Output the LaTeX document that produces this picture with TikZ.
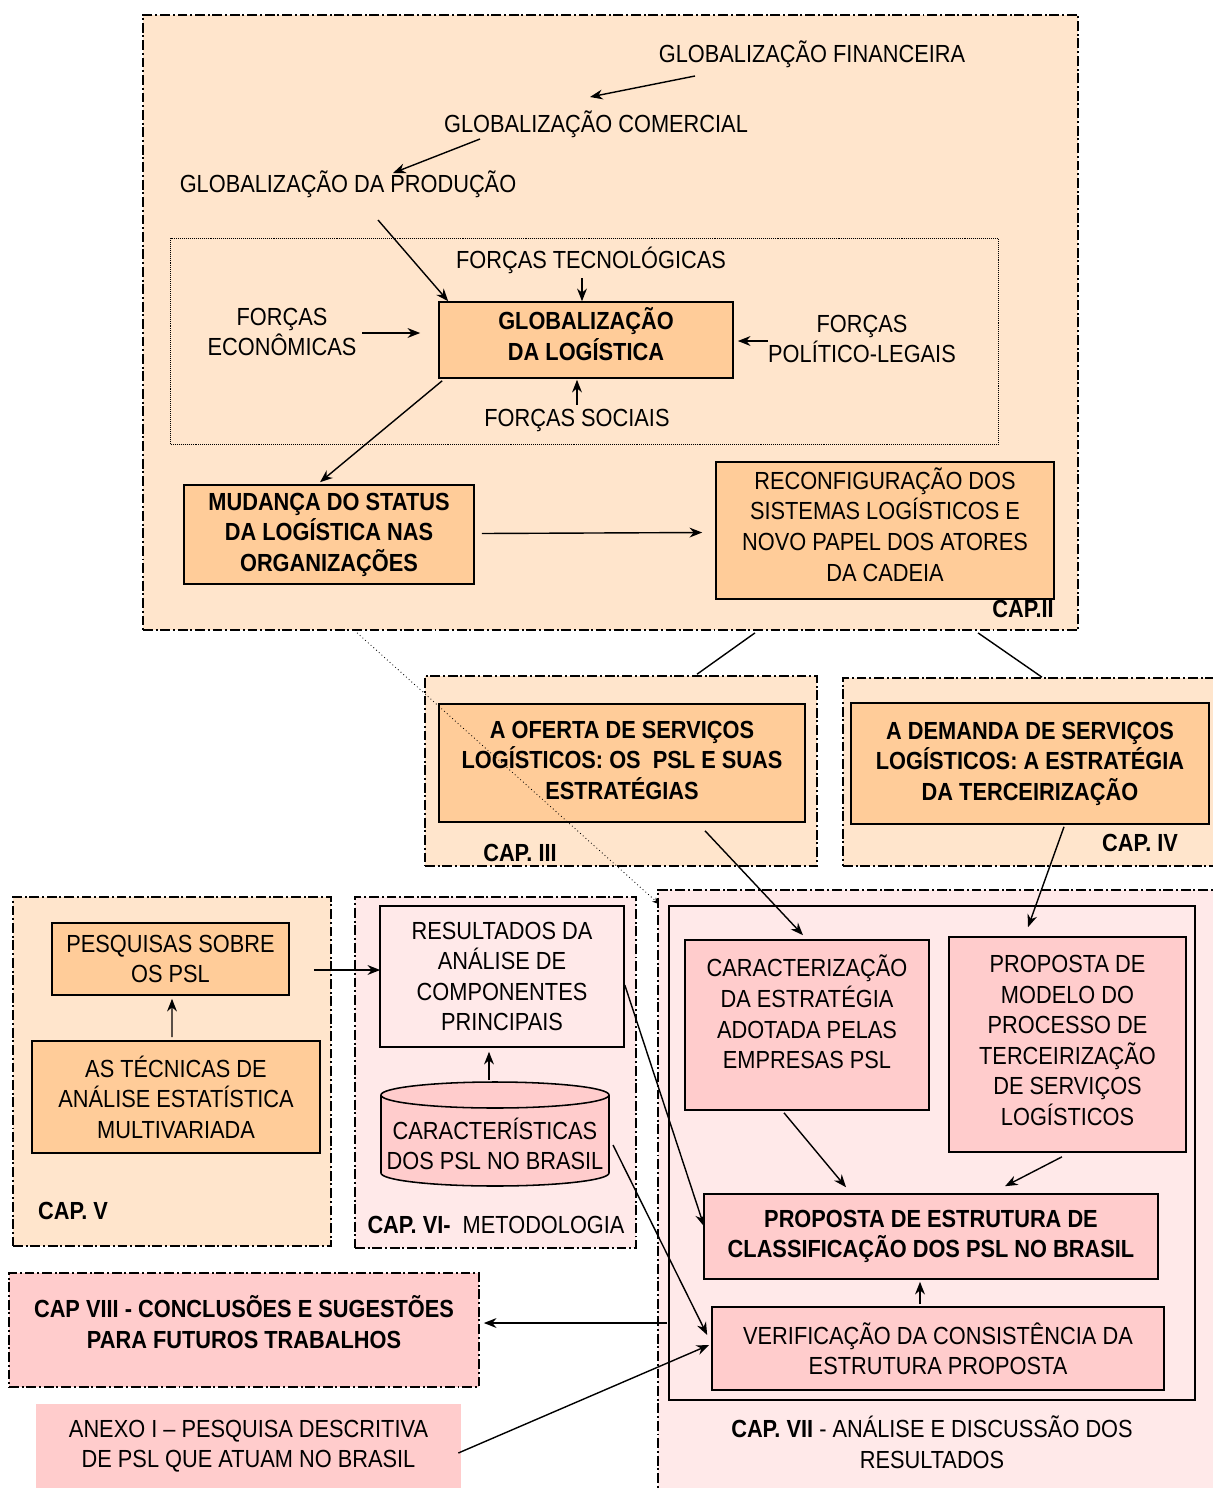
\documentclass[tikz,border=0pt]{standalone}
\usepackage{fontspec}
\setmainfont{Liberation Sans}[FakeStretch=0.88]
\usetikzlibrary{arrows.meta,calc}
\definecolor{peach}{RGB}{255,229,204}
\definecolor{orangebox}{RGB}{255,204,153}
\definecolor{lightpink}{RGB}{255,233,233}
\definecolor{pinkbox}{RGB}{255,204,204}
\begin{document}
\begin{tikzpicture}[x=0.025cm,y=-0.025cm,
    every node/.style={font=\fontsize{17.6}{21.7}\selectfont, align=center, inner sep=0pt},
    bold/.style={font=\fontsize{17.6}{21.7}\selectfont\bfseries},
    chap/.style={draw, line width=1.1pt, dash pattern=on 7pt off 2pt on 1.4pt off 2pt},
    obox/.style={draw, line width=1.1pt, fill=orangebox},
    pbox/.style={draw, line width=1.1pt, fill=pinkbox},
    wbox/.style={draw, line width=1.1pt, fill=lightpink},
    arr/.style={-{Stealth[length=9pt,width=7pt]}, line width=1pt},
    link/.style={line width=1pt}]
  \useasboundingbox (0,0) rectangle (1212,1488);

  \node[chap, fill=peach, minimum width=23.375cm, minimum height=15.375cm] (cap2) at (610.5,322.5) {};
  \node[draw, line width=0.6pt, dash pattern=on 0.6pt off 0.8pt, minimum width=20.675cm, minimum height=5.15cm] (forces) at (584.5,341) {};
  \node[chap, fill=peach, minimum width=9.8cm, minimum height=4.75cm] (cap3) at (621,771) {};
  \node[chap, fill=peach, minimum width=9.275cm, minimum height=4.7cm] (cap4) at (1028.5,772) {};
  \node[chap, fill=peach, minimum width=7.95cm, minimum height=8.725cm] (cap5) at (172,1071.5) {};
  \node[chap, fill=lightpink, minimum width=7.025cm, minimum height=8.775cm] (cap6) at (495.5,1072.5) {};
  \node[chap, fill=lightpink, minimum width=13.95cm, minimum height=15.05cm] (cap7) at (937,1191) {};
  \node[wbox, line width=1pt, minimum width=13.15cm, minimum height=12.35cm] (inner7) at (932,1153) {};
  \node[chap, fill=pinkbox, minimum width=11.75cm, minimum height=2.85cm] (cap8) at (244,1330) {};
  \node[bold] at ($(cap8)+(0,-8)$) {CAP VIII - CONCLUSÕES E SUGESTÕES\\PARA FUTUROS TRABALHOS};
  \node[fill=pinkbox, minimum width=10.625cm, minimum height=2.1cm] (anexo) at (248.5,1446) {ANEXO I -- PESQUISA DESCRITIVA\\DE PSL QUE ATUAM NO BRASIL};

  \node (fin) at (812,54) {GLOBALIZAÇÃO FINANCEIRA};
  \node (com) at (596,124) {GLOBALIZAÇÃO COMERCIAL};
  \node (prod) at (348,184) {GLOBALIZAÇÃO DA PRODUÇÃO};
  \node (tec) at (591,260) {FORÇAS TECNOLÓGICAS};
  \node (eco) at (282,332) {FORÇAS\\ECONÔMICAS};
  \node (pol) at (862,339) {FORÇAS\\POLÍTICO-LEGAIS};
  \node (soc) at (577,420) {FORÇAS SOCIAIS};

  \node[obox, minimum width=7.35cm, minimum height=1.9cm] (glog) at (586,340) {};
  \node[bold] at ($(glog)+(0,-6)$) {GLOBALIZAÇÃO\\DA LOGÍSTICA};
  \node[obox, bold, minimum width=7.25cm, minimum height=2.475cm] (mud) at (329,534.5) {MUDANÇA DO STATUS\\DA LOGÍSTICA NAS\\ORGANIZAÇÕES};
  \node[obox, minimum width=8.45cm, minimum height=3.425cm] (reconf) at (885,530.5) {};
  \node at ($(reconf)+(0,-6)$) {RECONFIGURAÇÃO DOS\\SISTEMAS LOGÍSTICOS E\\NOVO PAPEL DOS ATORES\\DA CADEIA};
  \node[bold, anchor=east] (lab2) at (1054,609) {CAP.II};

  \node[obox, minimum width=9.15cm, minimum height=2.95cm] (oferta) at (622,763) {};
  \node[bold] at ($(oferta)+(0,-3)$) {A OFERTA DE SERVIÇOS\\LOGÍSTICOS: OS~ PSL E SUAS\\ESTRATÉGIAS};
  \node[bold] (lab3) at (520,853) {CAP. III};
  \node[obox, bold, minimum width=8.95cm, minimum height=3.025cm] (demanda) at (1030,763.5) {A DEMANDA DE SERVIÇOS\\LOGÍSTICOS: A ESTRATÉGIA\\DA TERCEIRIZAÇÃO};
  \node[bold] (lab4) at (1140,843) {CAP. IV};

  \node[obox, minimum width=5.925cm, minimum height=1.8cm] (pesq) at (170.5,959) {PESQUISAS SOBRE\\OS PSL};
  \node[obox, minimum width=7.2cm, minimum height=2.8cm] (tecn) at (176,1097) {AS TÉCNICAS DE\\ANÁLISE ESTATÍSTICA\\MULTIVARIADA};
  \node[bold] (lab5) at (73,1211) {CAP. V};

  \node[wbox, minimum width=6.1cm, minimum height=3.525cm] (result) at (502,976.5) {RESULTADOS DA\\ANÁLISE DE\\COMPONENTES\\PRINCIPAIS};
  \draw[line width=1.1pt, fill=pinkbox] (381,1095) -- (381,1173) arc[start angle=180, end angle=0, x radius=114, y radius=13] -- (609,1095);
  \draw[line width=1.1pt, fill=pinkbox] (495,1095) ellipse[x radius=114, y radius=13];
  \node (cyl) at (495,1144) {CARACTERÍSTICAS\\DOS PSL NO BRASIL};
  \node (lab6) at (496,1225) {\textbf{CAP. VI-}~ METODOLOGIA};

  \node[pbox, minimum width=6.1cm, minimum height=4.25cm] (carac) at (807,1025) {};
  \node at ($(carac)+(0,-13)$) {CARACTERIZAÇÃO\\DA ESTRATÉGIA\\ADOTADA PELAS\\EMPRESAS PSL};
  \node[pbox, minimum width=5.925cm, minimum height=5.375cm] (modelo) at (1067.5,1044.5) {};
  \node at ($(modelo)+(0,-4)$) {PROPOSTA DE\\MODELO DO\\PROCESSO DE\\TERCEIRIZAÇÃO\\DE SERVIÇOS\\LOGÍSTICOS};
  \node[pbox, bold, minimum width=11.35cm, minimum height=2.125cm] (estrut) at (931,1236.5) {PROPOSTA DE ESTRUTURA DE\\CLASSIFICAÇÃO DOS PSL NO BRASIL};
  \node[pbox, minimum width=11.3cm, minimum height=2.075cm] (verif) at (938,1348.5) {VERIFICAÇÃO DA CONSISTÊNCIA DA\\ESTRUTURA PROPOSTA};
  \node (lab7) at (932,1442) {\textbf{CAP. VII} - ANÁLISE E DISCUSSÃO DOS\\RESULTADOS};

  \draw[arr] ($(fin)+(-117,22)$) -- ($(com)+(-6,-27)$);
  \draw[arr] ($(com)+(-116,15)$) -- ($(prod)+(45,-11)$);
  \draw[arr] ($(prod)+(30,36)$) -- ($(glog.north west)+(10,0)$);
  \draw[arr] ($(tec)+(-9,18)$) -- ($(glog.north)+(-4,0)$);
  \draw[arr] ($(eco)+(80,1)$) -- ($(glog.west)+(-18,-7)$);
  \draw[arr] ($(pol)+(-94,2)$) -- ($(glog.east)+(4,1)$);
  \draw[arr] ($(soc)+(0,-15)$) -- ($(glog.south)+(-9,1)$);
  \draw[arr] ($(glog.south west)+(4,2)$) -- ($(mud.north)+(-9,-2)$);
  \draw[arr] ($(mud.east)+(7,-1)$) -- ($(reconf.west)+(-13,2)$);
  \draw[link] ($(cap2.south)+(144.5,2)$) -- ($(cap3.north)+(76,-1)$);
  \draw[link] ($(cap2.south)+(367.5,2)$) -- ($(cap4.north)+(13.5,0)$);
  \draw[line width=0.6pt, dotted, -{Stealth[length=5pt,width=4pt]}] ($(cap2.south west)+(215,2)$) -- ($(cap7.north west)+(2,15)$);
  \draw[arr] ($(oferta.south)+(83,8)$) -- ($(carac.north)+(-4,-4)$);
  \draw[arr] ($(demanda.south)+(34,2)$) -- ($(modelo.north)+(-39.5,-9)$);
  \draw[arr] ($(tecn.north)+(-4,-3)$) -- ($(pesq.south)+(1.5,3)$);
  \draw[arr] ($(pesq.east)+(24,11)$) -- ($(result.west)+(1,-6.5)$);
  \draw[arr] ($(cyl)+(-6,-64)$) -- ($(result.south)+(-13,4)$);
  \draw[arr] ($(result.east)+(0,8.5)$) -- ($(estrut.west)+(1,-10)$);
  \draw[arr] ($(cyl)+(118,1)$) -- ($(verif.west)+(-4,-13.5)$);
  \draw[arr] ($(carac.south)+(-23,2)$) -- ($(estrut.north)+(-85,-6)$);
  \draw[arr] ($(modelo.south)+(-5.5,4)$) -- ($(estrut.north)+(74,-7)$);
  \draw[arr] ($(verif.north)+(-18,-2)$) -- ($(estrut.south)+(-11,2)$);
  \draw[arr] ($(inner7.west)+(-1,170)$) -- ($(cap8.east)+(4,-7)$);
  \draw[arr] ($(anexo.east)+(-3,7)$) -- ($(verif.west)+(-2,-3.5)$);
\end{tikzpicture}
\end{document}
